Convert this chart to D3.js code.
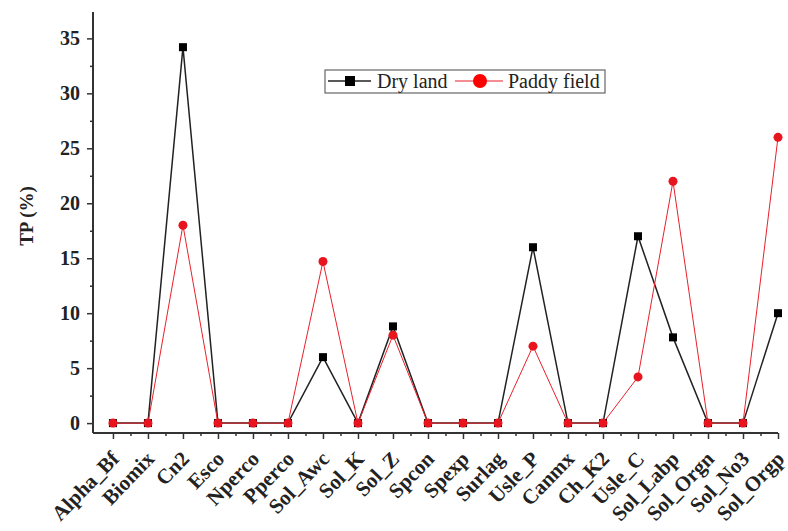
<!DOCTYPE html>
<html><head><meta charset="utf-8">
<script src="https://cdn.jsdelivr.net/npm/d3@7"></script>
<style>body{margin:0;background:#fff}svg{display:block}</style>
</head><body>
<svg id="c" width="788" height="531"></svg>
<script>
const categories = ["Alpha_Bf","Biomix","Cn2","Esco","Nperco","Pperco","Sol_Awc","Sol_K","Sol_Z","Spcon","Spexp","Surlag","Usle_P","Canmx","Ch_K2","Usle_C","Sol_Labp","Sol_Orgn","Sol_No3","Sol_Orgp"];
const dryLand = [0,0,34.2,0,0,0,6.0,0,8.8,0,0,0,16,0,0,17,7.8,0,0,10];
const paddyField = [0,0,18,0,0,0,14.7,0,8.0,0,0,0,7.0,0,0,4.2,22,0,0,26];
const yTicks = [0,5,10,15,20,25,30,35];
const seriesNames = ["Dry land","Paddy field"];

const svg = d3.select("#c");
const font = "'Liberation Serif','Times New Roman',serif";
const x = d3.scaleLinear().domain([-0.57,19]).range([93,778]);
const y = d3.scaleLinear().domain([-0.9,37.4]).range([433,12]);

// y axis
const yAxis = d3.axisLeft(y).tickValues(yTicks).tickSize(6).tickPadding(7);
const yMinor = d3.axisLeft(y).tickValues(d3.range(2.5,37.5,5)).tickSize(3).tickFormat("");
const gy = svg.append("g").attr("transform","translate(93,0)").call(yAxis);
svg.append("g").attr("transform","translate(93,0)").call(yMinor).select(".domain").remove();
gy.select(".domain").attr("d",`M0,${y(-0.9)}V${y(37.4)}`);
gy.selectAll("text").attr("font-family",font).attr("font-weight","bold").attr("font-size",20).attr("fill","#222");

// x axis
const xAxis = d3.axisBottom(x).tickValues(d3.range(0,20)).tickSize(6).tickFormat(i=>categories[i]);
const xMinor = d3.axisBottom(x).tickValues(d3.range(0.5,19,1)).tickSize(3).tickFormat("");
const gx = svg.append("g").attr("transform","translate(0,433)").call(xAxis);
svg.append("g").attr("transform","translate(0,433)").call(xMinor).select(".domain").remove();
gx.select(".domain").attr("d",`M93,0H778`);
svg.selectAll(".domain").attr("stroke","#333").attr("stroke-width",2);
svg.selectAll(".tick line").attr("stroke","#333").attr("stroke-width",1.5);
gx.selectAll("text")
  .attr("font-family",font).attr("font-weight","bold").attr("font-size",21).attr("fill","#222")
  .attr("text-anchor","end").attr("dy",null).attr("y",0)
  .attr("transform","translate(7,27) rotate(-46)");

// y label
svg.append("text").attr("transform",`translate(33,${216}) rotate(-90)`)
  .attr("text-anchor","middle").attr("font-family",font).attr("font-weight","bold")
  .attr("font-size",19).attr("fill","#222").text("TP (%)");

// lines
const line = d3.line().x((d,i)=>x(i)).y(d=>y(d));
svg.append("path").datum(dryLand).attr("d",line).attr("fill","none").attr("stroke","#222").attr("stroke-width",1.5);
svg.append("path").datum(paddyField).attr("d",line).attr("fill","none").attr("stroke","#e8202a").attr("stroke-width",1);
svg.selectAll(".sq").data(dryLand).join("rect").attr("class","sq")
  .attr("x",(d,i)=>x(i)-4).attr("y",d=>y(d)-4).attr("width",8).attr("height",8).attr("fill","#000");
svg.selectAll(".ci").data(paddyField).join("circle").attr("class","ci")
  .attr("cx",(d,i)=>x(i)).attr("cy",d=>y(d)).attr("r",4.5).attr("fill","#e8141e");

// legend
const lg = svg.append("g");
lg.append("rect").attr("x",325).attr("y",70).attr("width",280).attr("height",23)
  .attr("fill","#fff").attr("stroke","#666").attr("stroke-width",1.2);
lg.append("line").attr("x1",328).attr("x2",371).attr("y1",81).attr("y2",81).attr("stroke","#222").attr("stroke-width",1.5);
lg.append("rect").attr("x",345).attr("y",76).attr("width",10).attr("height",10).attr("fill","#000");
lg.append("text").attr("x",377).attr("y",87.5).attr("font-family",font).attr("font-size",20).attr("fill","#222").text(seriesNames[0]);
lg.append("line").attr("x1",455).attr("x2",503).attr("y1",81).attr("y2",81).attr("stroke","#e8202a").attr("stroke-width",1.2);
lg.append("circle").attr("cx",480).attr("cy",81).attr("r",7).attr("fill","#f00");
lg.append("text").attr("x",508).attr("y",87.5).attr("font-family",font).attr("font-size",20).attr("fill","#222").text(seriesNames[1]);
</script>
</body></html>
